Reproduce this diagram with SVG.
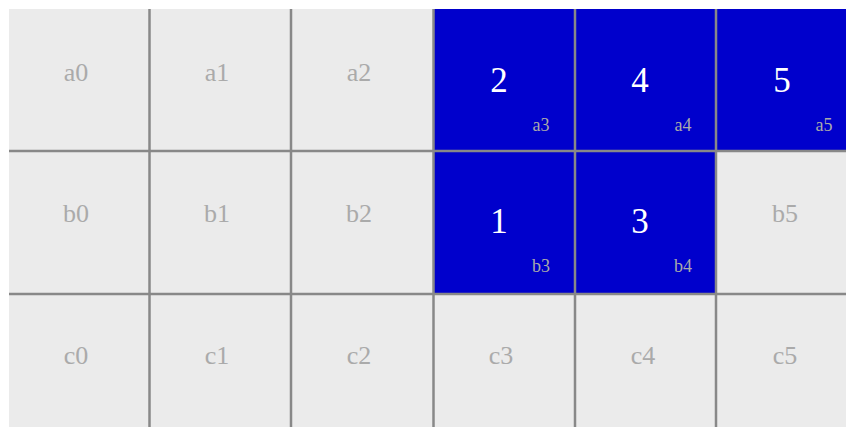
<svg xmlns="http://www.w3.org/2000/svg" width="846" height="427" viewBox="0 0 846 427">
<style>
.c{fill:#ebebeb}
.on{fill:#0000cc}
.lbl{font-family:"Liberation Serif",serif;font-size:26px;fill:#aaaaaa;text-anchor:middle}
.num{font-family:"Liberation Serif",serif;font-size:35px;fill:#ffffff;text-anchor:middle}
.sub{font-family:"Liberation Serif",serif;font-size:18px;fill:#aaaaaa;text-anchor:middle}
.ln{stroke:#888888;stroke-width:2.5;fill:none}
</style>
<rect width="846" height="427" fill="#ffffff"/>
<g id="a0"><rect class="c" x="9" y="9" width="141" height="142"/><text class="lbl" x="76" y="81">a0</text></g>
<g id="a1"><rect class="c" x="150" y="9" width="141" height="142"/><text class="lbl" x="217" y="81">a1</text></g>
<g id="a2"><rect class="c" x="291" y="9" width="142" height="142"/><text class="lbl" x="359" y="81">a2</text></g>
<g id="a3"><rect class="on" x="433" y="9" width="142" height="142"/><text class="num" x="499" y="92">2</text><text class="sub" x="541" y="131">a3</text></g>
<g id="a4"><rect class="on" x="575" y="9" width="141" height="142"/><text class="num" x="640" y="92">4</text><text class="sub" x="683" y="131">a4</text></g>
<g id="a5"><rect class="on" x="716" y="9" width="130" height="142"/><text class="num" x="782" y="92">5</text><text class="sub" x="824" y="131">a5</text></g>
<g id="b0"><rect class="c" x="9" y="151" width="141" height="143"/><text class="lbl" x="76" y="222">b0</text></g>
<g id="b1"><rect class="c" x="150" y="151" width="141" height="143"/><text class="lbl" x="217" y="222">b1</text></g>
<g id="b2"><rect class="c" x="291" y="151" width="142" height="143"/><text class="lbl" x="359" y="222">b2</text></g>
<g id="b3"><rect class="on" x="433" y="151" width="142" height="143"/><text class="num" x="499" y="233">1</text><text class="sub" x="541" y="272">b3</text></g>
<g id="b4"><rect class="on" x="575" y="151" width="141" height="143"/><text class="num" x="640" y="233">3</text><text class="sub" x="683" y="272">b4</text></g>
<g id="b5"><rect class="c" x="716" y="151" width="130" height="143"/><text class="lbl" x="785" y="222">b5</text></g>
<g id="c0"><rect class="c" x="9" y="294" width="141" height="133"/><text class="lbl" x="76" y="364">c0</text></g>
<g id="c1"><rect class="c" x="150" y="294" width="141" height="133"/><text class="lbl" x="217" y="364">c1</text></g>
<g id="c2"><rect class="c" x="291" y="294" width="142" height="133"/><text class="lbl" x="359" y="364">c2</text></g>
<g id="c3"><rect class="c" x="433" y="294" width="142" height="133"/><text class="lbl" x="501" y="364">c3</text></g>
<g id="c4"><rect class="c" x="575" y="294" width="141" height="133"/><text class="lbl" x="643" y="364">c4</text></g>
<g id="c5"><rect class="c" x="716" y="294" width="130" height="133"/><text class="lbl" x="785" y="364">c5</text></g>
<g id="gridlines">
<line class="ln" x1="149.5" y1="9" x2="149.5" y2="427"/>
<line class="ln" x1="291" y1="9" x2="291" y2="427"/>
<line class="ln" x1="433.5" y1="9" x2="433.5" y2="427"/>
<line class="ln" x1="575" y1="9" x2="575" y2="427"/>
<line class="ln" x1="716" y1="9" x2="716" y2="427"/>
<line class="ln" x1="9" y1="151" x2="846" y2="151"/>
<line class="ln" x1="9" y1="294" x2="846" y2="294"/>
</g>
</svg>
